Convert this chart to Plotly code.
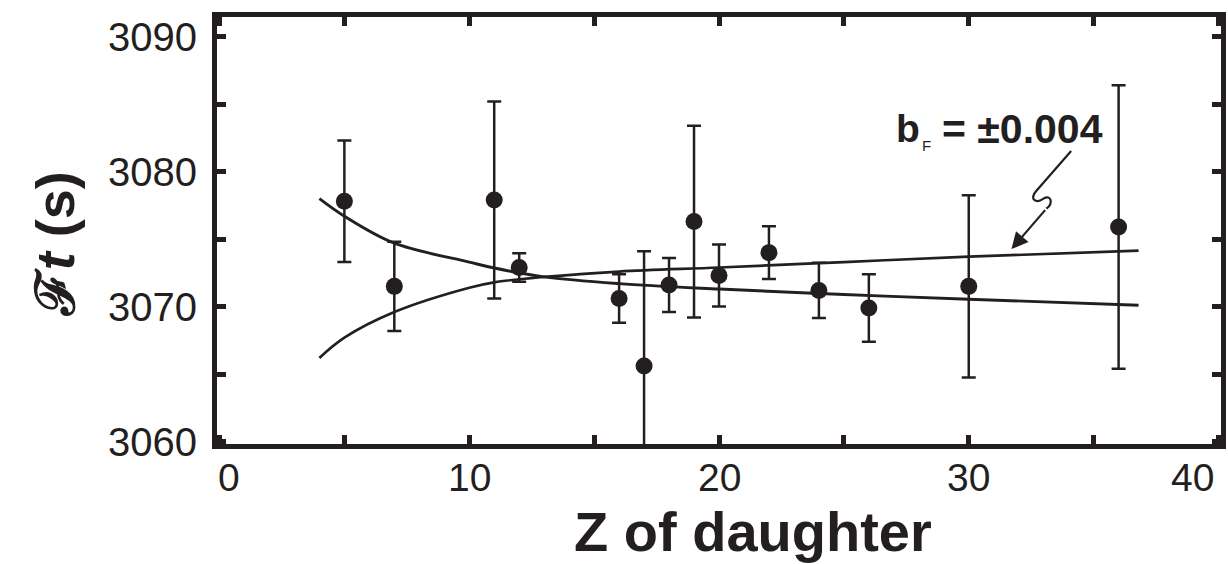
import plotly.graph_objects as go

# ---- data ----
z_daughter = [5, 7, 11, 12, 16, 17, 18, 19, 20, 22, 24, 26, 30, 36]
ft_values = [3077.8, 3071.5, 3077.9, 3072.9, 3070.6, 3065.6, 3071.6,
             3076.3, 3072.3, 3074.0, 3071.2, 3069.9, 3071.5, 3075.9]
ft_errors = [4.5, 3.3, 7.3, 1.05, 1.8, 8.5, 2.0, 7.1, 2.3, 1.95, 2.05, 2.5, 6.75, 10.5]

curve_z = [4, 5, 7, 10, 11, 13, 16, 20, 25, 30, 36.8]
curve_minus = [3078.0, 3076.7, 3074.7, 3073.3, 3072.86, 3072.2, 3071.7, 3071.3, 3070.9, 3070.55, 3070.1]
curve_plus = [3066.2, 3067.7, 3069.6, 3071.4, 3071.8, 3072.2, 3072.6, 3072.9, 3073.3, 3073.7, 3074.15]

x_tick_vals = [0, 10, 20, 30, 40]
x_tick_text = ["0", "10", "20", "30", "40"]
x_tick_shift = [9, 0, 0, 0, -26]
y_tick_vals = [3060, 3065, 3070, 3075, 3080, 3085, 3090]
y_tick_text = ["3060", "", "3070", "", "3080", "", "3090"]
x_minor_ticks = [0, 5, 10, 15, 20, 25, 30, 35, 40]

INK = "#231f20"
FONT = "Liberation Sans, Arial, Helvetica, sans-serif"

fig = go.Figure()

fig.add_trace(go.Scatter(x=curve_z, y=curve_minus, mode="lines",
                         line=dict(color=INK, width=2.9, shape="spline"),
                         hoverinfo="skip", showlegend=False))
fig.add_trace(go.Scatter(x=curve_z, y=curve_plus, mode="lines",
                         line=dict(color=INK, width=2.7, shape="spline"),
                         hoverinfo="skip", showlegend=False))
fig.add_trace(go.Scatter(
    x=z_daughter, y=ft_values, mode="markers",
    marker=dict(color=INK, size=17, line=dict(width=0)),
    error_y=dict(type="data", array=ft_errors, visible=True,
                 color=INK, thickness=2.5, width=7),
    showlegend=False))

# squiggly pointer line
fig.add_shape(type="path",
              path="M 34.10,3081.53 L 32.71,3078.58 C 32.39,3077.92 32.71,3077.63 32.99,3078.0 "
                   "C 33.31,3078.36 33.39,3077.63 33.11,3077.26",
              xref="x", yref="y", line=dict(color=INK, width=2.2))

annotations = []
# arrow head segment
annotations.append(dict(x=31.71, y=3074.26, ax=33.11, ay=3077.26,
                        xref="x", yref="y", axref="x", ayref="y",
                        text="", showarrow=True, arrowhead=2, arrowsize=1.5,
                        arrowwidth=2.2, arrowcolor=INK, standoff=0))
# b_F label
annotations.append(dict(x=27.0, y=3083.19, xref="x", yref="y", text="<b>b</b>",
                        showarrow=False, xanchor="left", yanchor="middle",
                        font=dict(family=FONT, size=39, color=INK)))
annotations.append(dict(x=28.05, y=3081.95, xref="x", yref="y", text="F",
                        showarrow=False, xanchor="left", yanchor="middle",
                        font=dict(family=FONT, size=15, color=INK)))
annotations.append(dict(x=28.84, y=3083.19, xref="x", yref="y", text="<b>= ±0.004</b>",
                        showarrow=False, xanchor="left", yanchor="middle",
                        font=dict(family=FONT, size=41, color=INK)))

# x tick labels
for v, t, s in zip(x_tick_vals, x_tick_text, x_tick_shift):
    annotations.append(dict(x=v, y=-0.0794, xref="x", yref="paper", text=t,
                            showarrow=False, xanchor="center", yanchor="middle",
                            xshift=s, font=dict(family=FONT, size=39, color=INK)))

# axis titles
annotations.append(dict(x=0.534, y=-0.2058, xref="paper", yref="paper",
                        text="<b>Z of daughter</b>", showarrow=False,
                        xanchor="center", yanchor="middle",
                        font=dict(family=FONT, size=56, color=INK)))
annotations.append(dict(x=-0.1618, y=0.4667, xref="paper", yref="paper",
                        text="<b>ℱ<i>t</i> (s)</b>", showarrow=False, textangle=-90,
                        xanchor="center", yanchor="middle",
                        font=dict(family=FONT, size=54, color=INK)))

fig.update_layout(
    width=1228, height=564,
    margin=dict(l=216.5, r=7, t=17, b=119.5, pad=0),
    paper_bgcolor="white", plot_bgcolor="white",
    showlegend=False,
    annotations=annotations,
    xaxis=dict(range=[-0.1, 40.1], tickvals=x_minor_ticks, showticklabels=False,
               ticks="inside", ticklen=9, tickwidth=5, tickcolor=INK,
               showline=True, linewidth=5, linecolor=INK, mirror="ticks",
               showgrid=False, zeroline=False, automargin=False),
    yaxis=dict(range=[3059.82, 3091.46], tickvals=y_tick_vals, ticktext=y_tick_text,
               ticks="inside", ticklen=9, tickwidth=5, tickcolor=INK,
               showline=True, linewidth=5, linecolor=INK, mirror="ticks",
               showgrid=False, zeroline=False, automargin=False,
               ticklabelstandoff=7,
               tickfont=dict(family=FONT, size=40, color=INK)),
)

fig.write_html("out.html",
               config={"displayModeBar": False},
               post_script="document.body.style.margin='0px';document.body.style.overflow='hidden';")
